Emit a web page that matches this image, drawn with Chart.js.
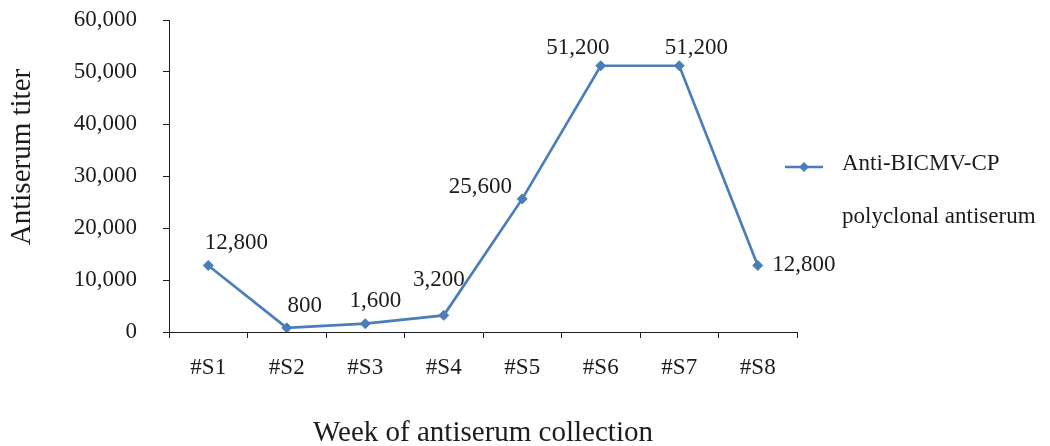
<!DOCTYPE html>
<html>
<head>
<meta charset="utf-8">
<script src="https://cdn.jsdelivr.net/npm/chart.js@4/dist/chart.umd.min.js"></script>
<style>
  html, body { margin: 0; padding: 0; background: #ffffff; }
  #wrap { position: relative; width: 1050px; height: 446px; }
</style>
</head>
<body>
<div id="wrap"><canvas id="titerChart" width="1050" height="446"></canvas></div>
<script>
// Sampling weeks and measured antiserum titers
const weeks = ['#S1', '#S2', '#S3', '#S4', '#S5', '#S6', '#S7', '#S8'];
const titers = [12800, 800, 1600, 3200, 25600, 51200, 51200, 12800];
const yTicks = [0, 10000, 20000, 30000, 40000, 50000, 60000];
const seriesName = ['Anti-BICMV-CP', 'polyclonal antiserum'];
const axisTitles = { x: 'Week of antiserum collection', y: 'Antiserum titer' };

const LINE_COLOR = '#4a7ebb';
const INK = '#1c1c1c';
const SERIF = '"Liberation Serif", "Times New Roman", serif';
const fmt = v => v.toLocaleString('en-US');

// Where each value label sits relative to its marker (dx, dy in px)
const labelShift = [[28, -22], [18, -22], [10, -23], [-5, -35], [-42, -12], [-23, -18], [17, -18], [46, 0]];

const valueLabels = {
  id: 'valueLabels',
  afterDatasetsDraw(chart) {
    const ctx = chart.ctx;
    const meta = chart.getDatasetMeta(0);
    ctx.save();
    ctx.font = '23px ' + SERIF;
    ctx.fillStyle = INK;
    ctx.textAlign = 'center';
    ctx.textBaseline = 'middle';
    meta.data.forEach((pt, i) => {
      const [dx, dy] = labelShift[i];
      ctx.fillText(fmt(titers[i]), pt.x + dx, pt.y + dy);
    });
    ctx.restore();
  }
};

const sideLegend = {
  id: 'sideLegend',
  afterDraw(chart) {
    const ctx = chart.ctx;
    const x0 = chart.chartArea.right - 12;
    const y0 = 167;
    ctx.save();
    ctx.strokeStyle = LINE_COLOR;
    ctx.lineWidth = 2.5;
    ctx.beginPath();
    ctx.moveTo(x0, y0);
    ctx.lineTo(x0 + 38, y0);
    ctx.stroke();
    ctx.fillStyle = LINE_COLOR;
    const cx = x0 + 19, r = 5;
    ctx.beginPath();
    ctx.moveTo(cx, y0 - r); ctx.lineTo(cx + r, y0); ctx.lineTo(cx, y0 + r); ctx.lineTo(cx - r, y0);
    ctx.closePath();
    ctx.fill();
    ctx.font = '23px ' + SERIF;
    ctx.fillStyle = INK;
    ctx.textAlign = 'left';
    ctx.textBaseline = 'alphabetic';
    ctx.fillText(seriesName[0], x0 + 57, 170);
    ctx.fillText(seriesName[1], x0 + 57, 223);
    ctx.restore();
  }
};

const yAxisTitle = {
  id: 'yAxisTitle',
  afterDraw(chart) {
    const ctx = chart.ctx;
    ctx.save();
    ctx.translate(22, 157);
    ctx.rotate(-Math.PI / 2);
    ctx.font = '29px ' + SERIF;
    ctx.fillStyle = INK;
    ctx.textAlign = 'center';
    ctx.textBaseline = 'middle';
    ctx.fillText(axisTitles.y, 0, 0);
    ctx.restore();
  }
};

new Chart(document.getElementById('titerChart'), {
  type: 'line',
  data: {
    labels: weeks,
    datasets: [{
      label: seriesName.join(' '),
      data: titers,
      borderColor: LINE_COLOR,
      backgroundColor: LINE_COLOR,
      borderWidth: 2.7,
      pointStyle: 'rectRot',
      pointRadius: 5,
      pointBorderWidth: 1,
      pointBackgroundColor: LINE_COLOR,
      pointBorderColor: LINE_COLOR,
      tension: 0,
      fill: false
    }]
  },
  options: {
    responsive: false,
    animation: false,
    devicePixelRatio: 1,
    layout: { padding: { left: 0, right: 253, top: 20, bottom: 0 } },
    plugins: {
      legend: { display: false },
      tooltip: { enabled: false },
      title: { display: false }
    },
    scales: {
      x: {
        offset: true,
        grid: { offset: true, drawOnChartArea: false, drawTicks: true, tickLength: 6, color: INK, lineWidth: 1 },
        border: { display: true, color: INK, width: 1 },
        ticks: { color: INK, font: { family: SERIF, size: 23 }, padding: 16, maxRotation: 0, autoSkip: false },
        title: {
          display: true,
          text: axisTitles.x,
          color: INK,
          font: { family: SERIF, size: 29, lineHeight: 0.7 },
          padding: { top: 0, bottom: 2 }
        },
        afterFit(scale) { scale.height = 114; scale.paddingLeft = 0; scale.paddingRight = 0; }
      },
      y: {
        min: yTicks[0],
        max: yTicks[yTicks.length - 1],
        afterBuildTicks(scale) { scale.ticks = yTicks.map(v => ({ value: v })); },
        grid: { drawOnChartArea: false, drawTicks: true, tickLength: 6, color: INK, lineWidth: 1 },
        border: { display: true, color: INK, width: 1 },
        ticks: { color: INK, font: { family: SERIF, size: 23 }, padding: 26, callback: v => fmt(v) },
        afterFit(scale) { scale.width = 169; scale.paddingTop = 0; scale.paddingBottom = 0; }
      }
    }
  },
  plugins: [valueLabels, sideLegend, yAxisTitle]
});
</script>
</body>
</html>
